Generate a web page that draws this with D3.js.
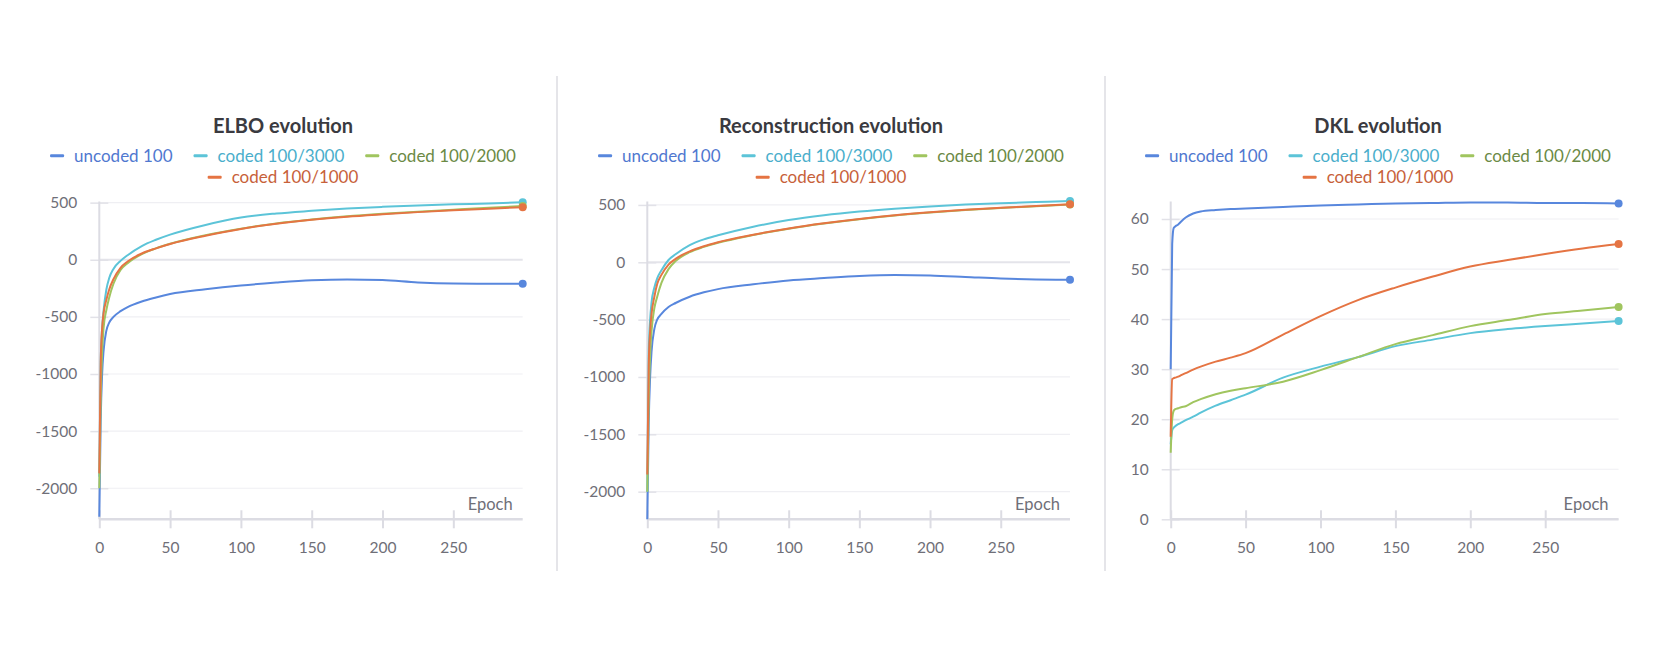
<!DOCTYPE html>
<html>
<head>
<meta charset="utf-8">
<script src="https://cdn.jsdelivr.net/npm/d3@7"></script>
<style>
  body { margin: 0; background: #fff; }
  svg { display: block; font-family: Lato, "Noto Sans", sans-serif; }
</style>
</head>
<body>
<svg id="chart" width="1661" height="649"></svg>
<script>
const epochs = [0, 1, 2, 3, 5, 7, 10, 15, 20, 30, 40, 50, 75, 100, 125, 150, 175, 200, 225, 250, 275, 299];

const seriesNames = ['uncoded 100', 'coded 100/3000', 'coded 100/2000', 'coded 100/1000'];
const lineColors = ['#5887dd', '#5cc4d8', '#a0c55f', '#e57443'];
const textColors = ['#5078d0', '#4aaecb', '#6b8a45', '#c7613a'];

// ELBO
const elboUncoded = [-2250, -1400, -1000, -800, -620, -550, -500, -450, -414, -365, -330, -300, -258, -225, -200, -180, -172, -178, -198, -208, -210, -210];
const elbo3000 = [-1900, -900, -600, -450, -260, -160, -80, -10, 40, 120, 175, 220, 305, 370, 405, 428, 448, 463, 475, 485, 493, 503];
const elbo2000 = [-2000, -1200, -800, -600, -440, -330, -210, -90, -30, 50, 100, 140, 215, 272, 318, 352, 380, 402, 421, 438, 455, 470];
const elbo1000 = [-1870, -900, -600, -470, -350, -260, -170, -70, -15, 55, 100, 138, 210, 270, 315, 350, 377, 398, 417, 433, 447, 460];

// Reconstruction
const recUncoded = [-2240, -1400, -1000, -780, -580, -500, -450, -390, -355, -300, -262, -234, -192, -158, -138, -120, -111, -115, -128, -142, -150, -152];
const rec3000 = [-2000, -800, -500, -350, -220, -140, -70, 20, 70, 150, 200, 235, 310, 368, 410, 442, 467, 487, 503, 515, 525, 535];
const rec2000 = [-2000, -1200, -800, -600, -400, -300, -180, -60, 10, 88, 134, 170, 238, 293, 338, 376, 408, 434, 456, 474, 489, 503];
const rec1000 = [-1850, -900, -600, -450, -300, -190, -110, -20, 30, 95, 140, 175, 240, 295, 340, 378, 410, 436, 458, 475, 490, 505];

// DKL
const dklUncoded = [30, 55, 58.2, 58.5, 58.9, 59.5, 60.3, 61.1, 61.5, 61.8, 62, 62.1, 62.4, 62.7, 62.9, 63.1, 63.2, 63.3, 63.3, 63.2, 63.2, 63.1];
const dkl3000 = [15, 17.8, 18.3, 18.6, 19, 19.3, 19.8, 20.5, 21.3, 22.7, 23.8, 24.9, 28.3, 30.5, 32.4, 34.6, 35.9, 37.2, 38, 38.6, 39.1, 39.6];
const dkl2000 = [13.3, 20, 21.7, 22, 22.2, 22.4, 22.6, 23.4, 24, 25, 25.7, 26.2, 27.5, 29.8, 32.4, 35.0, 36.8, 38.6, 39.8, 41, 41.7, 42.4];
const dkl1000 = [16.5, 28, 28.2, 28.3, 28.5, 28.8, 29.2, 29.9, 30.5, 31.5, 32.3, 33.2, 36.9, 40.6, 43.8, 46.3, 48.5, 50.5, 51.8, 53.0, 54.1, 55.0];

const elboTicks = [500, 0, -500, -1000, -1500, -2000];
const dklTicks = [60, 50, 40, 30, 20, 10, 0];
const epochTicks = [0, 50, 100, 150, 200, 250];

const panels = [
  { title: 'ELBO evolution', series: [elboUncoded, elbo3000, elbo2000, elbo1000],
    yDomain: [-2272, 510], yTicks: elboTicks, x0: 99.3, x1: 522.7, center: 283 },
  { title: 'Reconstruction evolution', series: [recUncoded, rec3000, rec2000, rec1000],
    yDomain: [-2241, 530], yTicks: elboTicks, x0: 647.3, x1: 1070, center: 831 },
  { title: 'DKL evolution', series: [dklUncoded, dkl3000, dkl2000, dkl1000],
    yDomain: [0, 63.5], yTicks: dklTicks, x0: 1170.7, x1: 1618.6, center: 1378 }
];

const svg = d3.select('#chart');
const plotBottom = 519.3, plotTop = 201.5;

// separators between panels
[557, 1105].forEach(x => {
  svg.append('line').attr('x1', x).attr('x2', x).attr('y1', 76).attr('y2', 571)
    .attr('stroke', '#dcdce2').attr('stroke-width', 1.5);
});

panels.forEach(p => {
  const x = d3.scaleLinear().domain([0, 299]).range([p.x0, p.x1]);
  const y = d3.scaleLinear().domain(p.yDomain).range([plotBottom, plotTop]);
  const g = svg.append('g');

  // grid
  g.selectAll('.grid').data(p.yTicks).enter().append('line')
    .attr('x1', p.x0).attr('x2', p.x1)
    .attr('y1', d => y(d)).attr('y2', d => y(d))
    .attr('stroke', d => d === 0 && p.yDomain[0] < 0 ? '#e4e4ea' : '#efeff3')
    .attr('stroke-width', d => d === 0 && p.yDomain[0] < 0 ? 2 : 1.2);

  // y axis
  const yAxis = g.append('g').attr('transform', `translate(${p.x0},0)`)
    .call(d3.axisLeft(y).tickValues(p.yTicks).tickFormat(d => String(d)).tickSize(9).tickPadding(13));
  yAxis.select('.domain').remove();
  yAxis.selectAll('.tick line').attr('x2', 9).attr('x1', -9).attr('stroke', '#e2e2e8').attr('stroke-width', 1.5);
  yAxis.selectAll('.tick text').attr('fill', '#6f6f78').style('font-size', '15.5px').style('font-family', 'Lato');
  g.append('line').attr('x1', p.x0).attr('x2', p.x0).attr('y1', plotTop).attr('y2', plotBottom)
    .attr('stroke', '#dcdce3').attr('stroke-width', 2);

  // x axis
  const xAxis = g.append('g').attr('transform', `translate(0,${plotBottom})`)
    .call(d3.axisBottom(x).tickValues(epochTicks).tickFormat(d => String(d)).tickSize(9).tickPadding(14));
  xAxis.select('.domain').remove();
  xAxis.selectAll('.tick line').attr('y1', -9).attr('y2', 9).attr('stroke', '#dcdce3').attr('stroke-width', 2);
  xAxis.selectAll('.tick text').attr('fill', '#6f6f78').style('font-size', '15.5px').style('font-family', 'Lato');
  g.append('line').attr('x1', p.x0).attr('x2', p.x1).attr('y1', plotBottom).attr('y2', plotBottom)
    .attr('stroke', '#dcdce3').attr('stroke-width', 2.5);

  g.append('text').attr('x', p.x1 - 10).attr('y', 510).attr('text-anchor', 'end')
    .attr('fill', '#6f6f78').style('font-size', '16.5px').text('Epoch');

  // lines
  const line = d3.line().x((d, i) => x(epochs[i])).y(d => y(d)).curve(d3.curveMonotoneX);
  p.series.forEach((s, k) => {
    g.append('path').datum(s).attr('d', line).attr('fill', 'none')
      .attr('stroke', lineColors[k]).attr('stroke-width', 2).attr('stroke-linejoin', 'round');
  });
  p.series.forEach((s, k) => {
    g.append('circle').attr('cx', x(epochs[epochs.length - 1])).attr('cy', y(s[s.length - 1]))
      .attr('r', 4).attr('fill', lineColors[k]);
  });

  // title
  svg.append('text').attr('x', p.center).attr('y', 133).attr('text-anchor', 'middle')
    .attr('fill', '#3a3a40').style('font-size', '20px').style('font-weight', 'bold').text(p.title);

  // legend: three on first row, one on second
  const rows = [[0, 1, 2], [3]];
  rows.forEach((row, r) => {
    const lg = svg.append('g');
    let cx = 0;
    row.forEach((k, j) => {
      const item = lg.append('g').attr('transform', `translate(${cx},0)`);
      item.append('rect').attr('x', 0).attr('y', -1.5).attr('width', 14).attr('height', 3)
        .attr('rx', 1).attr('fill', lineColors[k]);
      const t = item.append('text').attr('x', 24).attr('y', 6).attr('fill', textColors[k])
        .style('font-size', '17px').text(seriesNames[k]);
      cx += 24 + t.node().getComputedTextLength() + 21;
    });
    const w = cx - 21;
    lg.attr('transform', `translate(${p.center - w / 2},${r === 0 ? 155.7 : 177.3})`);
  });
});
</script>
</body>
</html>
